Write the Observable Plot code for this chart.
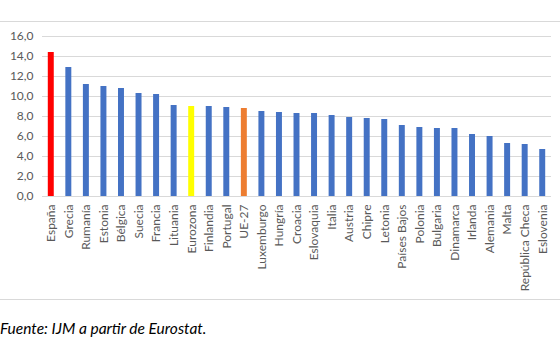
<!DOCTYPE html>
<html><head><meta charset="utf-8">
<script src="https://cdn.jsdelivr.net/npm/d3@7"></script>
<script src="https://cdn.jsdelivr.net/npm/@observablehq/plot@0.6"></script>
<style>
body{margin:0;background:#fff;font-family:Lato,sans-serif;}
#wrap{width:560px;}
#top{height:21px;}
#chart{border-top:1px solid #d9d9d9;border-bottom:1px solid #d9d9d9;height:277px;overflow:hidden;}
#chart svg{display:block;}
#caption{font-style:italic;font-size:15.5px;color:#000;margin-top:19px;line-height:18px;}
</style></head><body>
<div id="wrap">
<div id="top"></div>
<div id="chart"></div>
<div id="caption">Fuente: IJM a partir de Eurostat.</div>
</div>
<script>
const countries = ["España","Grecia","Rumanía","Estonia","Bélgica","Suecia","Francia","Lituania","Eurozona","Finlandia","Portugal","UE-27","Luxemburgo","Hungría","Croacia","Eslovaquia","Italia","Austria","Chipre","Letonia","Países Bajos","Polonia","Bulgaria","Dinamarca","Irlanda","Alemania","Malta","República Checa","Eslovenia"];
const values = [14.4,12.9,11.2,11.0,10.8,10.3,10.2,9.1,9.0,9.0,8.9,8.8,8.5,8.4,8.3,8.3,8.1,7.9,7.8,7.7,7.1,6.9,6.8,6.8,6.2,6.0,5.3,5.2,4.7];
const yTicks = [0,2,4,6,8,10,12,14,16];
const groupOf = {"España":"España","Eurozona":"Eurozona","UE-27":"UE-27"};

const data = countries.map((c,i)=>({country:c, value:values[i], group: groupOf[c] || "país"}));
const fmt = d => d.toFixed(1).replace(".", ",");

const chart = Plot.plot({
  width: 560,
  height: 277,
  marginTop: 14,
  marginBottom: 103,
  marginLeft: 42,
  marginRight: 9,
  style: {fontFamily: "Lato, sans-serif", fontSize: "12px", color: "#595959", background: "#fff"},
  x: {domain: countries, paddingInner: 0.66, paddingOuter: 0.33, round: false, label: null},
  y: {domain: [0,16], label: null},
  color: {domain: ["España","Eurozona","UE-27","país"], range: ["#ff0000","#ffff00","#ed7d31","#4472c4"]},
  marks: [
    Plot.gridY(yTicks, {stroke: "#d9d9d9", strokeOpacity: 1, strokeWidth: 1}),
    Plot.axisY(yTicks, {tickSize: 0, tickPadding: 9, tickFormat: fmt, label: null, fill: "#595959", fontSize: 12}),
    Plot.axisX({tickSize: 0, tickPadding: 8, tickRotate: -90, label: null, fill: "#595959", fontSize: 12}),
    Plot.barY(data, {x: "country", y: "value", fill: "group"})
  ]
});
document.getElementById("chart").append(chart);
</script>
</body></html>
